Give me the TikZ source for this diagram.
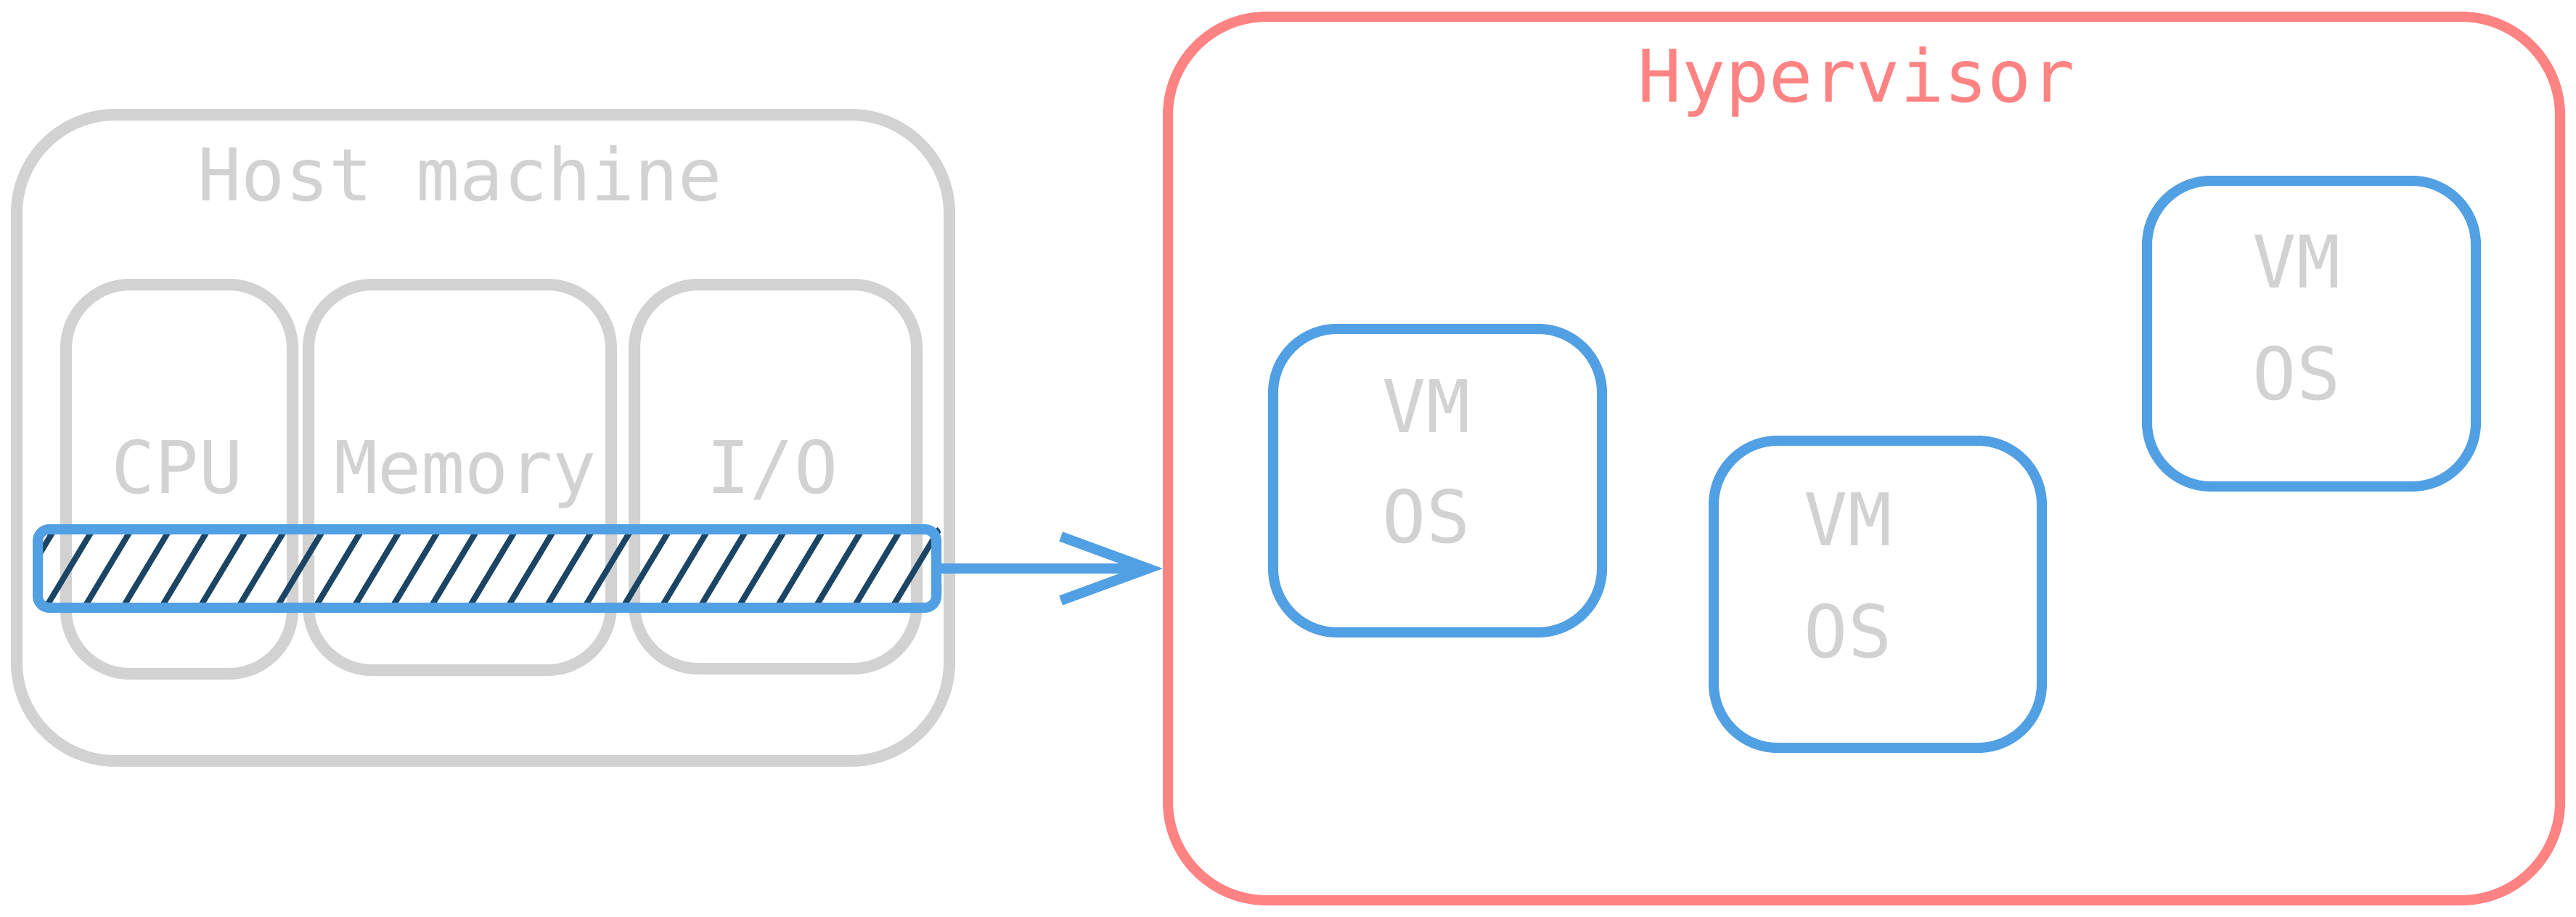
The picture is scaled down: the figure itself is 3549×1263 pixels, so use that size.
\documentclass[tikz,border=0pt]{standalone}
\usepackage{fontspec}
\setmainfont{DejaVu Sans Mono}
\usetikzlibrary{fit,arrows.meta}

\definecolor{hostgray}{RGB}{210,210,210}
\definecolor{vmblue}{RGB}{82,160,228}
\definecolor{hyperred}{RGB}{255,131,131}
\definecolor{hatchnavy}{RGB}{27,69,101}

\tikzset{every picture/.style={line width=3.5pt}}
\tikzset{
  graybox/.style={draw=hostgray, line width=4pt, rounded corners=#1, inner sep=0pt},
  vmbox/.style={draw=vmblue, rounded corners=22pt, inner sep=0pt},
  hyperbox/.style={draw=hyperred, rounded corners=34pt, inner sep=0pt},
  barbox/.style={draw=vmblue, line width=3.5pt, rounded corners=4pt, inner sep=0pt},
  hatchline/.style={draw=hatchnavy, line width=2pt, line cap=round},
  textlbl/.style={anchor=base, inner sep=0pt, font=\fontsize{25}{30}\selectfont},
  graylbl/.style={textlbl, text=hostgray},
}

\begin{document}
\begin{tikzpicture}[x=0.25pt,y=0.25pt,yscale=-1,xscale=1]
\useasboundingbox (0,0) rectangle (3549,1263);

%Shape: Host machine
\node [graybox=34pt, fit={(23,158) (1308,1048)}] (host) {};
%Shape: CPU
\node [graybox=22pt, fit={(91,392) (403,928)}] (cpu) {};
%Shape: Memory
\node [graybox=22pt, fit={(425,392) (842,923)}] (mem) {};
%Shape: I/O
\node [graybox=22pt, fit={(874,392) (1263,921)}] (io) {};

%Shape: Hypervisor
\node [hyperbox, fit={(1609,23) (3527,1240)}] (hyper) {};
%Shape: VM boxes
\node [vmbox, fit={(1754,453) (2207,871)}] (vma) {};
\node [vmbox, fit={(2361,607) (2813,1030)}] (vmb) {};
\node [vmbox, fit={(2958,249) (3411,670)}] (vmc) {};

%Shape: hatched bar
\node [fit={(52,729) (1290,837)}, inner sep=0pt] (bar) {};
\begin{scope}
  \clip [rounded corners=4pt] (bar.south west) rectangle (bar.north east);
  \foreach \i in {0,...,24}
    \draw [hatchline] (10+\i*53,837) -- (75+\i*53,729);
\end{scope}
\node [barbox, fit={(52,729) (1290,837)}] {};

%Arrow
\draw [vmblue, line cap=round, -{Straight Barb[length=30pt,width=22pt]}] (bar.east) -- (hyper.west |- bar.east);

% Text Node
\node [graylbl] (hostlbl) at (634,276) {Host machine};
% Text Node
\node [graylbl] (cpulbl) at (244,679) {CPU};
% Text Node
\node [graylbl] (memlbl) at (641,679) {Memory};
% Text Node
\node [graylbl] (iolbl) at (1064,679) {I/O};
% Text Node
\node [textlbl, text=hyperred] (hyperlbl) at (2558,140) {Hypervisor};
% Text Node
\node [graylbl] (vmalbl) at (1965,595) {VM};
\node [graylbl] (osalbl) at (1965,747) {OS};
% Text Node
\node [graylbl] (vmblbl) at (2546,751) {VM};
\node [graylbl] (osblbl) at (2546,905) {OS};
% Text Node
\node [graylbl] (vmclbl) at (3164,396) {VM};
\node [graylbl] (osclbl) at (3164,550) {OS};

\end{tikzpicture}
\end{document}
